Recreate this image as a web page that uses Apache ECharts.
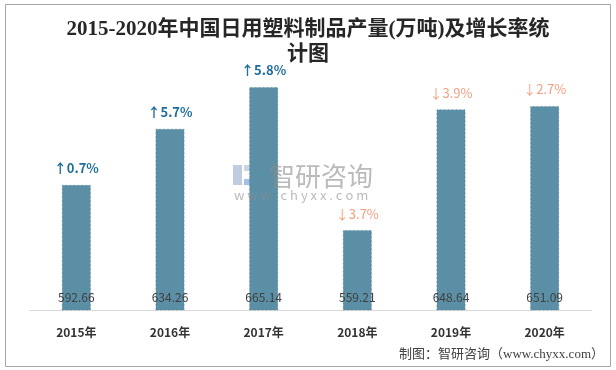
<!DOCTYPE html>
<html>
<head>
<meta charset="utf-8">
<script src="https://cdn.jsdelivr.net/npm/echarts@6/dist/echarts.min.js"></script>
<style>html,body{margin:0;padding:0;background:#fff}#c{width:616px;height:370px}</style>
</head>
<body>
<div id="c"></div>
<script>
const titleText = '2015-2020年中国日用塑料制品产量(万吨)及增长率统\n计图';
const years = ['2015年', '2016年', '2017年', '2018年', '2019年', '2020年'];
const production = [592.66, 634.26, 665.14, 559.21, 648.64, 651.09];
const growthDir = ['up', 'up', 'up', 'down', 'down', 'down'];
const growthText = ['0.7%', '5.7%', '5.8%', '3.7%', '3.9%', '2.7%'];
const sourceText = '制图：智研咨询（www.chyxx.com）';

const chart = echarts.init(document.getElementById('c'), null, {renderer: 'canvas'});
const cjk = "'Noto Sans CJK SC', 'Microsoft YaHei', sans-serif";
const serif = "'Liberation Serif', 'DejaVu Serif', 'Noto Sans CJK SC', serif";

chart.setOption({
  animation: false,
  backgroundColor: '#ffffff',
  title: {
    text: titleText,
    left: 'center',
    top: 12,
    textStyle: {fontFamily: serif, fontSize: 21, fontWeight: 'bold', color: '#262626', lineHeight: 25}
  },
  grid: {left: 29.5, right: 24.5, top: 40, bottom: 60, containLabel: false},
  xAxis: {
    type: 'category',
    data: years,
    axisLine: {lineStyle: {color: '#d9d9d9', width: 1}},
    axisTick: {show: false},
    axisLabel: {fontFamily: cjk, fontSize: 12, fontWeight: 'bold', color: '#333333', margin: 16}
  },
  yAxis: {
    type: 'value',
    min: 500,
    max: 700,
    show: false,
    splitLine: {show: false}
  },
  series: [
    {
      type: 'bar',
      data: production,
      barWidth: '31%',
      itemStyle: {color: '#5b8fa5', borderColor: 'rgba(60,110,135,0.5)', borderWidth: 0.8, borderType: [2, 2]},
      label: {
        show: true,
        position: 'insideBottom',
        distance: 7,
        fontFamily: cjk,
        fontSize: 12,
        color: '#404040',
        formatter: p => production[p.dataIndex].toFixed(2)
      },
      z: 2
    },
    {
      type: 'bar',
      data: production,
      barWidth: '31%',
      barGap: '-100%',
      silent: true,
      itemStyle: {color: 'rgba(0,0,0,0)', borderWidth: 0},
      label: {
        show: true,
        position: 'top',
        distance: 10,
        formatter: p => growthDir[p.dataIndex] === 'up'
          ? '{up|↑' + growthText[p.dataIndex] + '}'
          : '{down|↓' + growthText[p.dataIndex] + '}',
        rich: {
          up: {fontFamily: cjk, fontSize: 13, fontWeight: 'bold', color: '#1f6e9c'},
          down: {fontFamily: cjk, fontSize: 13, color: '#f4a080'}
        }
      },
      z: 3
    }
  ],
  graphic: [
    {
      type: 'rect',
      shape: {x: 5.5, y: 4.5, width: 605, height: 362},
      style: {fill: 'none', stroke: '#a6a6a6', lineWidth: 1},
      silent: true, z: 100
    },
    {
      type: 'text',
      right: 12,
      top: 348,
      style: {text: sourceText, fontFamily: serif, fontSize: 13, fill: '#404040'},
      z: 100
    },
    {
      type: 'group',
      left: 233, top: 165, z: 50,
      children: [
        {type: 'rect', shape: {x: 0, y: 0, width: 9, height: 20}, style: {fill: 'rgba(150,170,205,0.6)'}},
        {type: 'rect', shape: {x: 11, y: 0, width: 17, height: 6}, style: {fill: 'rgba(150,170,205,0.5)'}},
        {type: 'rect', shape: {x: 18, y: 7, width: 10, height: 6}, style: {fill: 'rgba(120,160,215,0.55)'}},
        {type: 'rect', shape: {x: 11, y: 14, width: 17, height: 6}, style: {fill: 'rgba(100,150,215,0.6)'}}
      ]
    },
    {
      type: 'text',
      left: 269, top: 163, z: 50,
      style: {text: '智研咨询', fontFamily: cjk, fontSize: 26, fill: 'rgba(140,140,140,0.6)'}
    },
    {
      type: 'text',
      left: 234, top: 189, z: 50,
      style: {text: 'w w w . c h y x x . c o m', fontFamily: cjk, fontSize: 13, fill: 'rgba(140,140,140,0.6)'}
    }
  ]
});
</script>
</body>
</html>
